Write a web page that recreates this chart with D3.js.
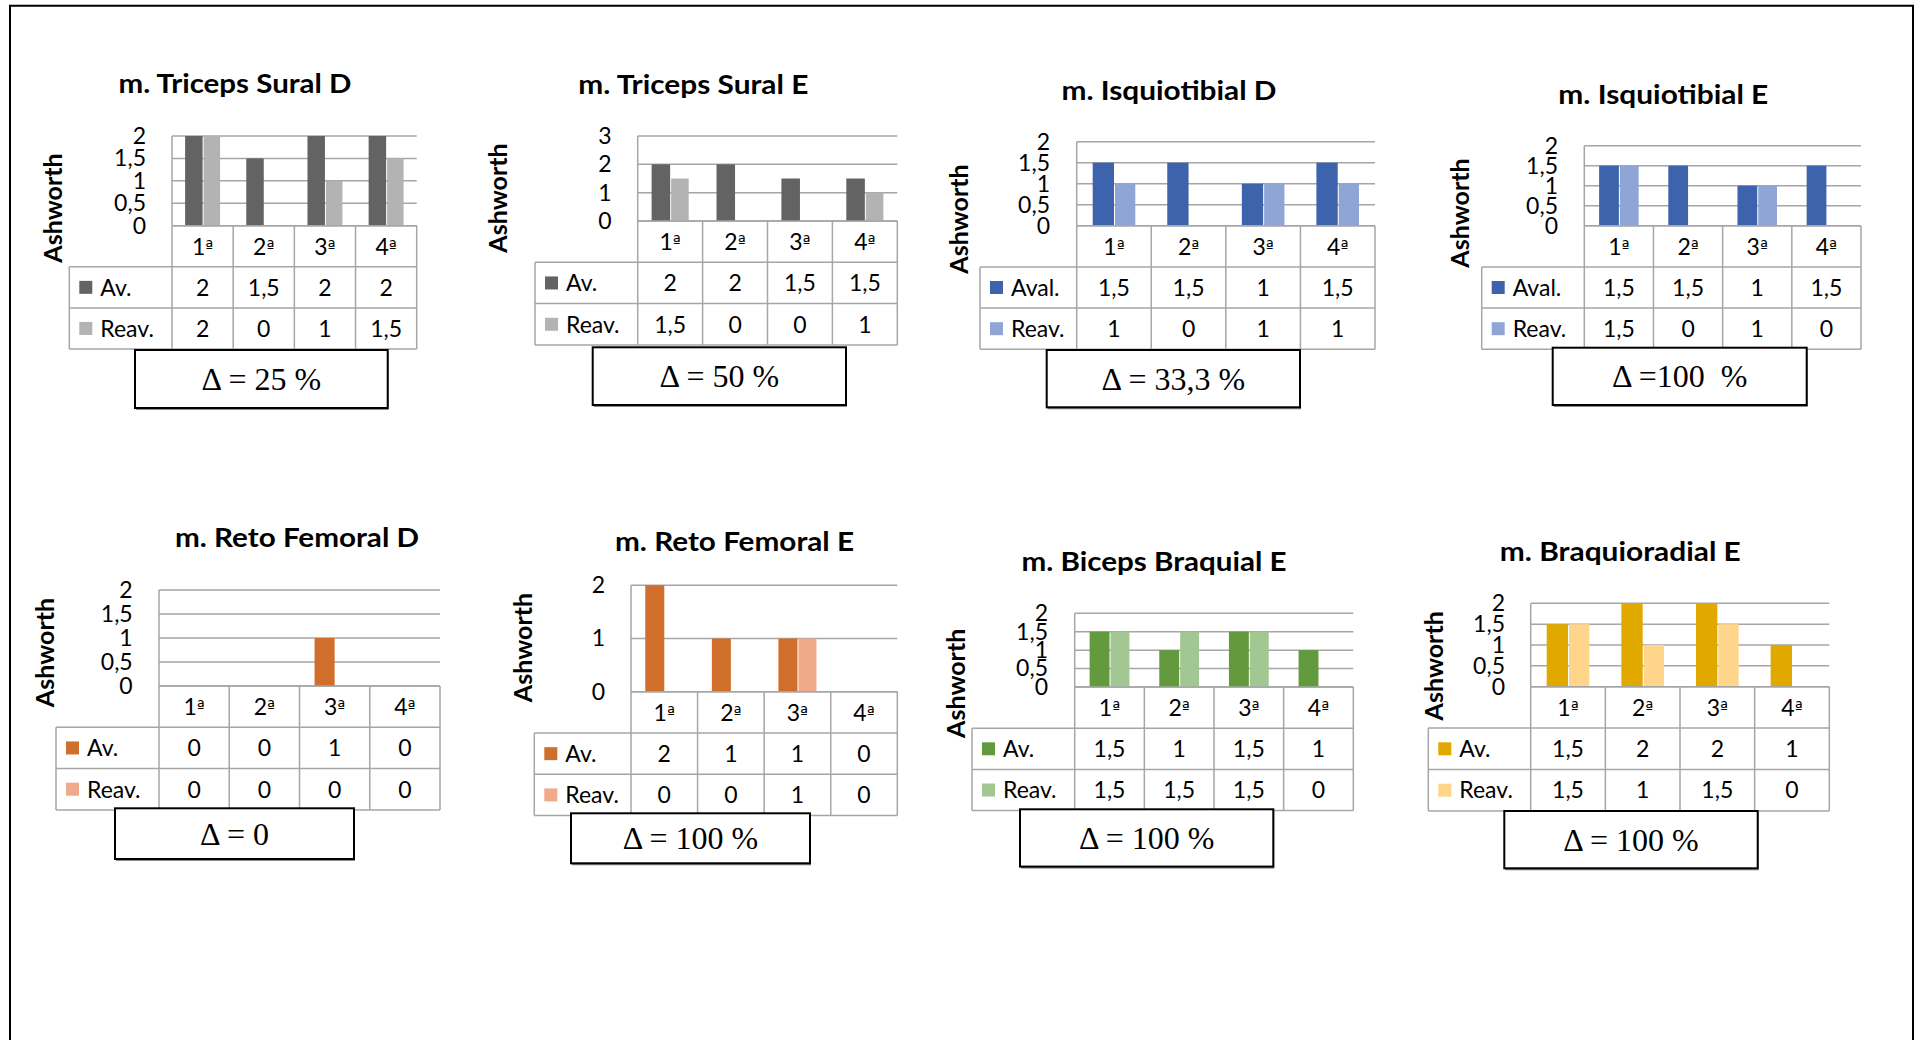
<!DOCTYPE html>
<html>
<head>
<meta charset="utf-8">
<script src="https://cdn.jsdelivr.net/npm/d3@7"></script>
<style>
  html, body { margin: 0; padding: 0; background: #fff; }
  svg { display: block; }
  text { font-family: Lato, "Open Sans", sans-serif; fill: #000; }
  .title { font-weight: 700; font-size: 26px; }
  .ytitle { font-weight: 700; font-size: 25px; }
  .tick text { font-size: 23px; }
  .cell { font-size: 23px; }
  .ord { font-family: "DejaVu Sans", sans-serif; font-size: 17px; }
  .delta { font-family: "Liberation Serif", "Times New Roman", serif; font-size: 32px; white-space: pre; }
</style>
</head>
<body>
<svg id="chart" width="1921" height="1040"></svg>
<script>
// Ashworth scores per muscle, four sessions, first evaluation vs. re-evaluation
const sessions = ["1ª", "2ª", "3ª", "4ª"];
const muscles = [
  "m. Triceps Sural D", "m. Triceps Sural E", "m. Isquiotibial D", "m. Isquiotibial E",
  "m. Reto Femoral D", "m. Reto Femoral E", "m. Biceps Braquial E", "m. Braquioradial E"
];
const firstSeries = ["Av.", "Av.", "Aval.", "Aval.", "Av.", "Av.", "Av.", "Av."];
const secondSeries = ["Reav.", "Reav.", "Reav.", "Reav.", "Reav.", "Reav.", "Reav.", "Reav."];
const avaliacao = [
  [2, 1.5, 2, 2],
  [2, 2, 1.5, 1.5],
  [1.5, 1.5, 1, 1.5],
  [1.5, 1.5, 1, 1.5],
  [0, 0, 1, 0],
  [2, 1, 1, 0],
  [1.5, 1, 1.5, 1],
  [1.5, 2, 2, 1]
];
const reavaliacao = [
  [2, 0, 1, 1.5],
  [1.5, 0, 0, 1],
  [1, 0, 1, 1],
  [1.5, 0, 1, 0],
  [0, 0, 0, 0],
  [0, 0, 1, 0],
  [1.5, 1.5, 1.5, 0],
  [1.5, 1, 1.5, 0]
];
const deltas = ["Δ = 25 %", "Δ = 50 %", "Δ = 33,3 %", "Δ =100  %", "Δ = 0", "Δ = 100 %", "Δ = 100 %", "Δ = 100 %"];
const axisMax = [2, 3, 2, 2, 2, 2, 2, 2];
const axisStep = [0.5, 1, 0.5, 0.5, 0.5, 1, 0.5, 0.5];
const axisTitle = "Ashworth";

// Series colours, one pair per panel
const palettes = [
  ["#636363", "#b3b3b3"], ["#636363", "#b3b3b3"],
  ["#3c63ac", "#8fa5d5"], ["#3c63ac", "#8fa5d5"],
  ["#d06e2b", "#f1a98b"], ["#d06e2b", "#f1a98b"],
  ["#629a3d", "#a3c793"],
  ["#e1a900", "#ffd58b"]
];

// Panel placement: title (centre, baseline, width), plot box, table row height, legend column,
// delta box, axis title centre, right edge of tick labels
const layout = [
  { tx: 235,    ty: 93,    tw: 233, x0: 172,    x1: 416.7,  top: 136,   base: 225.7, rowH: 41.1, leg: 69.3,   box: [135, 350, 252.7, 58],      ax: 53,    ay: 208,   tickR: 146 },
  { tx: 693.3,  ty: 94,    tw: 230, x0: 637.7,  x1: 897.3,  top: 136,   base: 221,   rowH: 41.3, leg: 535,    box: [592.7, 347.3, 253.3, 57.7], ax: 498,   ay: 198,   tickR: 611.7 },
  { tx: 1169,   ty: 100,   tw: 215, x0: 1076.7, x1: 1375,   top: 141.7, base: 225.7, rowH: 41.2, leg: 980,    box: [1046.7, 350, 253.3, 57.3],  ax: 959.3, ay: 219,   tickR: 1050 },
  { tx: 1663.3, ty: 104,   tw: 210, x0: 1584.3, x1: 1861,   top: 145.7, base: 225.7, rowH: 41.2, leg: 1481.7, box: [1552.7, 347.7, 254, 57.3],  ax: 1460,  ay: 213,   tickR: 1558 },
  { tx: 297,    ty: 546.7, tw: 244, x0: 159,    x1: 440,    top: 590,   base: 686,   rowH: 41.3, leg: 56,     box: [115, 808.3, 239, 50.7],     ax: 45,    ay: 652.5, tickR: 132.7 },
  { tx: 734.5,  ty: 551,   tw: 239, x0: 631,    x1: 897.3,  top: 585.3, base: 691.7, rowH: 41.3, leg: 534.3,  box: [571, 813.3, 239, 50],       ax: 523.3, ay: 647.5, tickR: 605 },
  { tx: 1154,   ty: 570.7, tw: 265, x0: 1074.7, x1: 1353.3, top: 613.3, base: 687,   rowH: 41.2, leg: 972,    box: [1020, 809.3, 253.3, 57.3],  ax: 956,   ay: 683.3, tickR: 1048 },
  { tx: 1620.3, ty: 561,   tw: 241, x0: 1530.7, x1: 1829.3, top: 603.3, base: 686.7, rowH: 41.4, leg: 1428.3, box: [1504.3, 811, 253.4, 57.3],  ax: 1434,  ay: 665.8, tickR: 1505 }
];

const gridColor = "#a6a6a6";
const locale = d3.formatLocale({ decimal: ",", thousands: ".", grouping: [3], currency: ["", ""] });
const fmt = v => locale.format("~g")(v);

const svg = d3.select("#chart");

// Outer frame (open at the bottom)
svg.append("path")
  .attr("d", "M10,1040 V5.7 H1913 V1040")
  .attr("fill", "none").attr("stroke", "#000").attr("stroke-width", 2);

muscles.forEach((name, i) => {
  const L = layout[i];
  const g = svg.append("g");
  const series = [
    { label: firstSeries[i], values: avaliacao[i], color: palettes[i][0] },
    { label: secondSeries[i], values: reavaliacao[i], color: palettes[i][1] }
  ];

  const x = d3.scaleBand().domain(sessions).range([L.x0, L.x1]).paddingInner(0).paddingOuter(0);
  const y = d3.scaleLinear().domain([0, axisMax[i]]).range([L.base, L.top]);
  const ticks = d3.range(0, axisMax[i] + axisStep[i] / 2, axisStep[i]);

  // Title
  g.append("text").attr("class", "title")
    .attr("x", L.tx).attr("y", L.ty).attr("text-anchor", "middle")
    .attr("textLength", L.tw).attr("lengthAdjust", "spacingAndGlyphs")
    .text(name);

  // Axis title
  g.append("text").attr("class", "ytitle")
    .attr("transform", `translate(${L.ax},${L.ay}) rotate(-90)`)
    .attr("text-anchor", "middle").attr("dy", "0.35em").text(axisTitle);

  // Horizontal gridlines
  g.append("g").selectAll("line").data(ticks).join("line")
    .attr("x1", L.x0).attr("x2", L.x1)
    .attr("y1", d => y(d)).attr("y2", d => y(d))
    .attr("stroke", gridColor).attr("stroke-width", 1.5);

  // Left edge of plot area
  g.append("line")
    .attr("x1", L.x0).attr("x2", L.x0).attr("y1", y(axisMax[i])).attr("y2", y(0))
    .attr("stroke", gridColor).attr("stroke-width", 1.5);

  // Tick labels
  const axis = g.append("g")
    .attr("transform", `translate(${L.tickR},0)`)
    .call(d3.axisLeft(y).tickValues(ticks).tickFormat(fmt).tickSize(0).tickPadding(0));
  axis.select(".domain").remove();
  axis.selectAll(".tick text").attr("fill", "#000");

  // Bars: two per session, gap width 150 %
  const bw = x.bandwidth() / 3.5;
  series.forEach((s, k) => {
    g.append("g").selectAll("rect").data(sessions).join("rect")
      .attr("x", d => x(d) + 0.75 * bw + k * (bw + 1))
      .attr("width", bw - (k ? 1 : 0))
      .attr("y", (d, j) => y(s.values[j]))
      .attr("height", (d, j) => y(0) - y(s.values[j]))
      .attr("fill", s.color);
  });

  // Data table
  const rowY = r => L.base + r * L.rowH;
  const tbl = g.append("g").attr("stroke", gridColor).attr("stroke-width", 1.5);
  tbl.append("line").attr("x1", L.x0).attr("x2", L.x1).attr("y1", rowY(0)).attr("y2", rowY(0));
  [1, 2, 3].forEach(r => {
    tbl.append("line").attr("x1", L.leg).attr("x2", L.x1).attr("y1", rowY(r)).attr("y2", rowY(r));
  });
  tbl.append("line").attr("x1", L.leg).attr("x2", L.leg).attr("y1", rowY(1)).attr("y2", rowY(3));
  const edges = sessions.map(d => x(d)).concat([L.x1]);
  tbl.selectAll(".col").data(edges).join("line")
    .attr("x1", d => d).attr("x2", d => d).attr("y1", rowY(0)).attr("y2", rowY(3));

  // Header row: session number with underlined ordinal indicator
  const head = g.append("g").selectAll("text").data(sessions).join("text").attr("class", "cell")
    .attr("x", d => x(d) + x.bandwidth() / 2).attr("y", rowY(0.5))
    .attr("dy", "0.36em").attr("text-anchor", "middle");
  head.append("tspan").text(d => d.slice(0, -1));
  head.append("tspan").attr("class", "ord").attr("dy", "-0.1em").text(d => d.slice(-1));

  // Series rows with legend keys
  series.forEach((s, k) => {
    const cy = rowY(1.5 + k);
    g.append("rect").attr("x", L.leg + 10).attr("y", cy - 6.5).attr("width", 13).attr("height", 13).attr("fill", s.color);
    g.append("text").attr("class", "cell").attr("x", L.leg + 31).attr("y", cy).attr("dy", "0.36em").text(s.label);
    g.append("g").selectAll("text").data(sessions).join("text").attr("class", "cell")
      .attr("x", d => x(d) + x.bandwidth() / 2).attr("y", cy)
      .attr("dy", "0.36em").attr("text-anchor", "middle")
      .text((d, j) => fmt(s.values[j]));
  });

  // Delta box
  const [bx, by, bwid, bh] = L.box;
  g.append("rect").attr("x", bx + 1).attr("y", by + 2).attr("width", bwid).attr("height", bh)
    .attr("fill", "#8c8c8c");
  g.append("rect").attr("x", bx).attr("y", by).attr("width", bwid).attr("height", bh)
    .attr("fill", "#fff").attr("stroke", "#000").attr("stroke-width", 2);
  g.append("text").attr("class", "delta")
    .attr("x", bx + bwid / 2).attr("y", by + bh / 2 + 11)
    .attr("text-anchor", "middle").text(deltas[i]);
});
</script>
</body>
</html>
